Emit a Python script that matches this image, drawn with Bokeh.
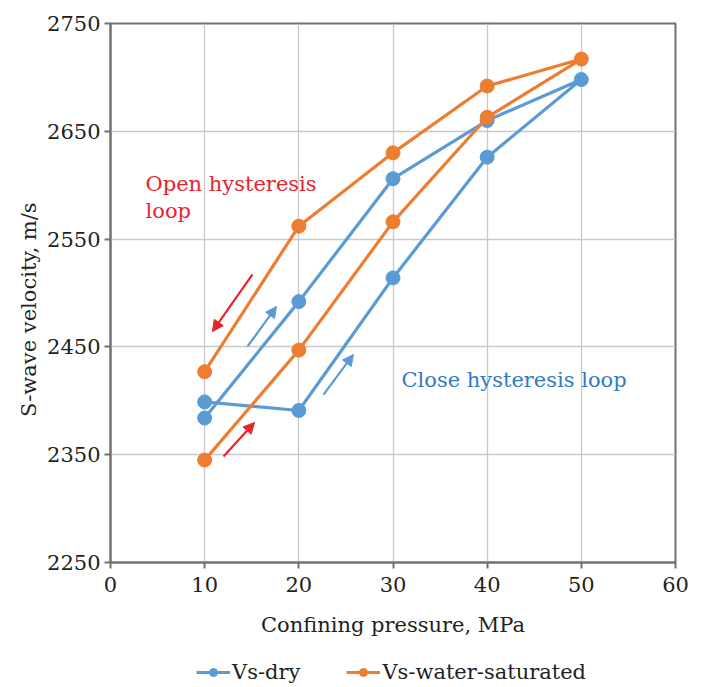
from bokeh.plotting import figure
from bokeh.layouts import column
from bokeh.models import Legend, LegendItem, Label, Arrow, NormalHead, FixedTicker
from bokeh.embed import file_html
from bokeh.resources import INLINE

# Confining pressure path (loading 10 -> 50 MPa, then unloading back to 10 MPa)
pressure_dry = [10, 20, 30, 40, 50, 40, 30, 20, 10]
vs_dry = [2399, 2391, 2514, 2626, 2698, 2660, 2606, 2492, 2384]

pressure_wet = [10, 20, 30, 40, 50, 40, 30, 20, 10]
vs_wet = [2345, 2447, 2566, 2663, 2717, 2692, 2630, 2562, 2427]

x_ticks = [0, 10, 20, 30, 40, 50, 60]
y_ticks = [2250, 2350, 2450, 2550, 2650, 2750]

BLUE = "#5b9bd5"
ORANGE = "#ed7d31"
RED = "#e8232b"
BLUE_TEXT = "#2f7cc2"
AXIS_GREY = "#717171"
GRID_GREY = "#c9c9c9"
TEXT = "#231f20"
FONT = "DejaVu Serif"

fig = figure(
    frame_width=565, frame_height=539,
    x_range=(0, 60), y_range=(2250, 2750),
    min_border_left=110, min_border_right=31,
    min_border_top=23, min_border_bottom=95,
    output_backend="svg", toolbar_location=None,
    background_fill_color="white", border_fill_color="white",
)

fig.outline_line_color = AXIS_GREY
fig.outline_line_width = 2

for ax, ticks in ((fig.xaxis, x_ticks), (fig.yaxis, y_ticks)):
    ax.ticker = FixedTicker(ticks=ticks)
    ax.axis_line_color = AXIS_GREY
    ax.axis_line_width = 2
    ax.major_tick_line_color = AXIS_GREY
    ax.major_tick_line_width = 2
    ax.major_tick_out = 6
    ax.major_tick_in = 0
    ax.minor_tick_line_color = None
    ax.major_label_text_font = FONT
    ax.major_label_text_font_size = "21px"
    ax.major_label_text_color = TEXT
    ax.axis_label_text_font = FONT
    ax.axis_label_text_font_size = "21px"
    ax.axis_label_text_font_style = "normal"
    ax.axis_label_text_color = TEXT

fig.xaxis.axis_label = "Confining pressure, MPa"
# trailing no-break spaces nudge the vertical title a little below centre
fig.yaxis.axis_label = "S-wave velocity, m/s" + "\u00a0" * 5
fig.xaxis.major_label_standoff = 8
fig.yaxis.major_label_standoff = 4
fig.xaxis.axis_label_standoff = 18
fig.yaxis.axis_label_standoff = 3

fig.xgrid.grid_line_color = GRID_GREY
fig.ygrid.grid_line_color = GRID_GREY
fig.xgrid.grid_line_width = 1.3
fig.ygrid.grid_line_width = 1.3

# Series
fig.line(pressure_dry, vs_dry, line_color=BLUE, line_width=3.2)
fig.scatter(pressure_dry, vs_dry, size=14, fill_color=BLUE, line_color=BLUE)
fig.line(pressure_wet, vs_wet, line_color=ORANGE, line_width=3.2)
fig.scatter(pressure_wet, vs_wet, size=14, fill_color=ORANGE, line_color=ORANGE)

# Direction arrows: (x_start, y_start, x_end, y_end, colour)
arrows = [
    (15.08, 2517.2, 10.83, 2464.3, RED),
    (12.00, 2348.3, 15.29, 2379.9, RED),
    (14.55, 2450.4, 17.63, 2487.5, BLUE),
    (22.62, 2405.8, 25.80, 2443.0, BLUE),
]
for xs, ys, xe, ye, c in arrows:
    fig.add_layout(Arrow(
        x_start=xs, y_start=ys, x_end=xe, y_end=ye,
        line_color=c, line_width=2.2,
        end=NormalHead(size=11, fill_color=c, line_color=c, line_width=1),
    ))

# Annotation texts
notes = [
    ("Open hysteresis", 3.72, 2601, RED),
    ("loop", 3.72, 2576, RED),
    ("Close hysteresis loop", 30.9, 2419, BLUE_TEXT),
]
for txt, x, y, c in notes:
    fig.add_layout(Label(
        x=x, y=y, text=txt, text_color=c, text_font=FONT,
        text_font_size="21px", text_baseline="alphabetic", text_align="left",
    ))

# Legend strip underneath the chart
key = figure(
    width=706, height=30, x_range=(0, 1), y_range=(0, 1),
    x_axis_type=None, y_axis_type=None, min_border=0,
    output_backend="svg", toolbar_location=None,
    outline_line_color=None, background_fill_color="white",
    border_fill_color="white",
)
key.xgrid.visible = False
key.ygrid.visible = False
nan = float("nan")
kd_line = key.line([nan], [nan], line_color=BLUE, line_width=3.2)
kd_pts = key.scatter([nan], [nan], size=9, fill_color=BLUE, line_color=BLUE)
kw_line = key.line([nan], [nan], line_color=ORANGE, line_width=3.2)
kw_pts = key.scatter([nan], [nan], size=9, fill_color=ORANGE, line_color=ORANGE)

legend = Legend(
    items=[
        LegendItem(label="Vs-dry", renderers=[kd_line, kd_pts]),
        LegendItem(label="Vs-water-saturated", renderers=[kw_line, kw_pts]),
    ],
    orientation="horizontal",
    location=(86, 3),
    label_text_font=FONT,
    label_text_font_size="21px",
    label_text_color=TEXT,
    glyph_width=34,
    glyph_height=20,
    label_standoff=2,
    spacing=46,
    border_line_color=None,
    background_fill_alpha=0,
    margin=0,
    padding=0,
)
key.add_layout(legend)

p = column(fig, key, spacing=0)

open("out.html", "w").write(file_html(p, INLINE))
